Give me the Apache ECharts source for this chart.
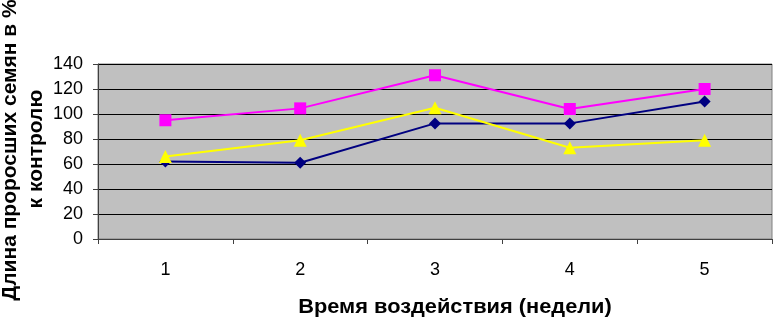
<!DOCTYPE html>
<html><head><meta charset="utf-8">
<script src="https://cdn.jsdelivr.net/npm/echarts@6/dist/echarts.min.js"></script>
<style>html,body{margin:0;padding:0;background:#fff}#c{width:773px;height:318px}</style>
</head><body><div id="c"></div>
<script>
const categories = ['1','2','3','4','5'];
const seriesNavy = [62, 61, 92.5, 92.5, 110];
const seriesPink = [95, 104.5, 131, 104, 120];
const seriesYellow = [66, 79, 105, 73, 79];
const yTitle1 = 'Длина проросших семян в %';
const yTitle2 = 'к контролю';
const xTitle = 'Время воздействия (недели)';

const font = 'Arial, "Liberation Sans", sans-serif';
const chart = echarts.init(document.getElementById('c'));
chart.setOption({
  animation: false,
  grid: {left: 98, top: 64, right: 1, bottom: 79, show: true, backgroundColor: '#C0C0C0', borderColor: '#808080', borderWidth: 1},
  xAxis: {
    type: 'category', data: categories, boundaryGap: true,
    axisLine: {lineStyle: {color: '#404040', width: 1}},
    axisTick: {show: true, length: 5, lineStyle: {color: '#404040'}},
    axisLabel: {color: '#000', fontSize: 18, fontFamily: font, margin: 22}
  },
  yAxis: {
    type: 'value', min: 0, max: 140, interval: 20,
    axisLine: {show: true, lineStyle: {color: '#404040', width: 1}},
    axisTick: {show: true, length: 5, lineStyle: {color: '#404040'}},
    axisLabel: {color: '#000', fontSize: 18, fontFamily: font, margin: 15},
    splitLine: {show: true, lineStyle: {color: '#000', width: 1}}
  },
  graphic: [
    {type: 'text', x: 10, y: 150, rotation: Math.PI/2, style: {text: yTitle1, font: 'bold 21px ' + font, fill: '#000', align: 'center', verticalAlign: 'middle'}},
    {type: 'text', x: 36, y: 149, rotation: Math.PI/2, style: {text: yTitle2, font: 'bold 21px ' + font, fill: '#000', align: 'center', verticalAlign: 'middle'}},
    {type: 'text', x: 455, y: 307, scaleX: 1.09, style: {text: xTitle, font: 'bold 20px ' + font, fill: '#000', align: 'center', verticalAlign: 'middle'}}
  ],
  series: [
    {type: 'line', data: seriesNavy, symbol: 'diamond', symbolSize: 12, lineStyle: {color: '#000080', width: 2}, itemStyle: {color: '#000080'}},
    {type: 'line', data: seriesPink, symbol: 'rect', symbolSize: 12, lineStyle: {color: '#FF00FF', width: 2}, itemStyle: {color: '#FF00FF'}},
    {type: 'line', data: seriesYellow, symbol: 'triangle', symbolSize: 13, lineStyle: {color: '#FFFF00', width: 2}, itemStyle: {color: '#FFFF00'}}
  ]
});
</script></body></html>
